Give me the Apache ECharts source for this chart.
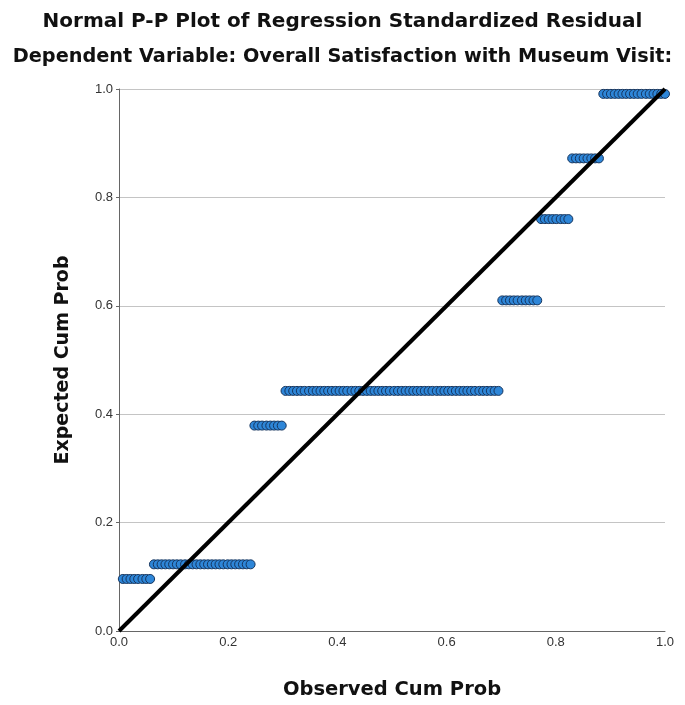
<!DOCTYPE html>
<html><head><meta charset="utf-8">
<script src="https://cdn.jsdelivr.net/npm/echarts@6/dist/echarts.min.js"></script>
<style>html,body{margin:0;padding:0;background:#fff}#c{width:685px;height:705px}</style>
</head><body><div id="c"></div>
<script>
// Observed cumulative probability (x) and expected cumulative probability (y), by cluster
const obs1 = [.007,.014,.021,.028,.035,.043,.050,.057];
const exp1 = 0.096;
const obs2 = [.064,.071,.078,.085,.092,.099,.106,.113,.121,.128,.135,.142,.149,.156,.163,.170,.177,.184,.191,.199,.206,.213,.220,.227,.234,.241];
const exp2 = 0.123;
const obs3 = [.248,.255,.262,.270,.277,.284,.291,.298];
const exp3 = 0.379;
const obs4 = [.305,.312,.319,.326,.333,.340,.348,.355,.362,.369,.376,.383,.390,.397,.404,.411,.418,.426,.433,.440,.447,.454,.461,.468,.475,.482,.489,.496,.504,.511,.518,.525,.532,.539,.546,.553,.560,.567,.574,.582,.589,.596,.603,.610,.617,.624,.631,.638,.645,.652,.660,.667,.674,.681,.688,.695];
const exp4 = 0.443;
const obs5 = [.702,.709,.716,.723,.730,.738,.745,.752,.759,.766];
const exp5 = 0.610;
const obs6 = [.773,.780,.787,.794,.801,.809,.816,.823];
const exp6 = 0.760;
const obs7 = [.830,.837,.844,.851,.858,.865,.872,.879];
const exp7 = 0.872;
const obs8 = [.887,.894,.901,.908,.915,.922,.929,.936,.943,.950,.957,.965,.972,.979,.986,.993,1.000];
const exp8 = 0.991;
const refLine = [[0,0],[1,1]];
const tickLabels = ['0.0','0.2','0.4','0.6','0.8','1.0'];

const clusters = [[obs1,exp1],[obs2,exp2],[obs3,exp3],[obs4,exp4],[obs5,exp5],[obs6,exp6],[obs7,exp7],[obs8,exp8]];
const pts = [];
clusters.forEach(([xs,y]) => xs.forEach(x => pts.push([x,y])));

const chart = echarts.init(document.getElementById('c'));
const boldFam = '"DejaVu Sans", Arial, sans-serif';
const fontFam = '"Liberation Sans", Arial, sans-serif';
const fmt = v => tickLabels[Math.round(v*5)];
chart.setOption({
  animation:false,
  backgroundColor:'#fff',
  title:[
    {text:'Normal P-P Plot of Regression Standardized Residual',left:'center',top:7,
     textStyle:{fontFamily:boldFam,fontSize:20,fontWeight:'bold',color:'#111'}},
    {text:'Dependent Variable: Overall Satisfaction with Museum Visit:',left:'center',top:42,
     textStyle:{fontFamily:boldFam,fontSize:19.3,fontWeight:'bold',color:'#111'}}
  ],
  grid:{left:119,right:20,top:89,bottom:73,containLabel:false},
  xAxis:{type:'value',min:0,max:1,interval:0.2,
    name:'Observed Cum Prob',nameLocation:'middle',nameGap:49,
    nameTextStyle:{fontFamily:boldFam,fontSize:19.5,fontWeight:'bold',color:'#111'},
    axisLine:{lineStyle:{color:'#666',width:1}},axisTick:{show:false},
    axisLabel:{formatter:fmt,fontFamily:fontFam,fontSize:13,color:'#333',margin:5},
    splitLine:{show:false}},
  yAxis:{type:'value',min:0,max:1,interval:0.2,
    name:'Expected Cum Prob',nameLocation:'middle',nameGap:46,
    nameTextStyle:{fontFamily:boldFam,fontSize:19,fontWeight:'bold',color:'#111'},
    axisLine:{show:true,lineStyle:{color:'#666',width:1}},
    axisTick:{show:true,length:3,lineStyle:{color:'#666'}},
    axisLabel:{formatter:fmt,fontFamily:fontFam,fontSize:13,color:'#333',margin:6},
    splitLine:{show:true,lineStyle:{color:'#c4c4c4',width:1}}},
  series:[
    {type:'scatter',data:pts,symbol:'circle',symbolSize:9,
     itemStyle:{color:'#2e86d8',borderColor:'#16355e',borderWidth:1,opacity:1},z:2},
    {type:'line',data:refLine,symbol:'none',lineStyle:{color:'#000',width:4},z:3,silent:true}
  ]
});
</script></body></html>
